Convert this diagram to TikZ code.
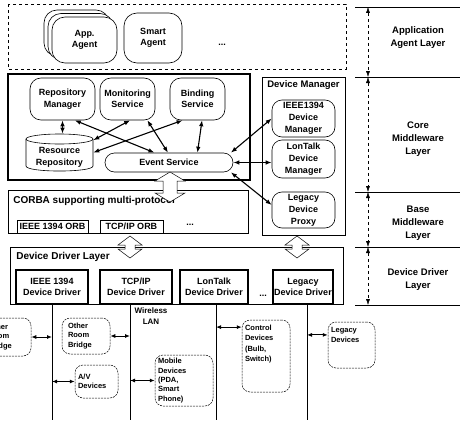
\documentclass[tikz,border=0pt]{standalone}
\usepackage{fontspec}
\setmainfont{Liberation Sans}
\usetikzlibrary{arrows.meta}

% hollow double arrow: x, top, bottom, shaft half width, head half width
\newcommand{\hollowarrow}[5]{%
  \draw[fill=white, line width=0.5pt] (#1,#2) -- (#1+#5,#2+9) -- (#1+#4,#2+9) -- (#1+#4,#3-9)
    -- (#1+#5,#3-9) -- (#1,#3) -- (#1-#5,#3-9) -- (#1-#4,#3-9) -- (#1-#4,#2+9) -- (#1-#5,#2+9) -- cycle;}

\begin{document}
\begin{tikzpicture}[x=1pt, y=-1pt, line width=0.6pt,
  txt/.style={font=\bfseries\fontsize{9}{11.5}\selectfont, align=center, inner sep=1pt},
  agent/.style={txt, draw, fill=white, rounded corners=13pt, minimum width=65pt, minimum height=46pt},
  svc/.style={txt, draw, rounded corners=11pt, minimum width=55pt, minimum height=42pt},
  dman/.style={txt, draw, rounded corners=10pt, minimum width=63pt, minimum height=37pt, font=\bfseries\fontsize{9}{12}\selectfont},
  drv/.style={txt, draw, line width=1.4pt, minimum height=34pt, inner sep=0pt},
  orb/.style={txt, draw, minimum height=13pt, inner sep=0pt},
  dev/.style={font=\bfseries\fontsize{7.5}{9.3}\selectfont, align=left, draw, dash pattern=on 2pt off 1pt, line width=0.5pt, rounded corners=8pt, inner xsep=3pt, inner ysep=2pt},
  devtxt/.style={anchor=north west, align=left, font=\bfseries\fontsize{7.5}{10.5}\selectfont, inner xsep=3pt, inner ysep=5pt},
  ttl/.style={anchor=west, font=\bfseries\fontsize{10}{12}\selectfont, inner sep=0pt},
  lyr/.style={font=\bfseries\fontsize{9.5}{13}\selectfont, align=center},
  link/.style={{Latex[length=6pt,width=4.5pt]}-{Latex[length=6pt,width=4.5pt]}, line width=1.1pt},
  plug/.style={{Latex[length=5pt,width=4pt]}-{Latex[length=5pt,width=4pt]}, line width=0.9pt},
  lspan/.style={{Latex[length=6pt,width=4pt]}-{Latex[length=6pt,width=4pt]}, dashed, line width=0.4pt}]
\useasboundingbox (0,0) rectangle (460,420);
\clip (0,0) rectangle (460,420);

% application agent layer
\draw[dashed, line width=0.5pt] (8,4) rectangle (346,69);
\draw[rounded corners=13pt, fill=white] (44,10) rectangle (109,56);
\draw[rounded corners=13pt, fill=white] (48,13.5) rectangle (113,59.5);
\node[agent] (a1) at (84.5,40) {App.\\Agent};
\node[agent, minimum width=58pt, minimum height=50pt] (a2) at (153,38) {Smart\\Agent};
\node[txt] (a3) at (222,45) {...};

% core middleware
\draw[line width=1.3pt] (8,74) rectangle (250,180);
\node[svc, minimum width=65pt] (r1) at (62.5,99) {Repository\\Manager};
\node[svc] (m1) at (127.5,99) {Monitoring\\Service};
\node[svc] (b1) at (197.5,99) {Binding\\Service};
\draw (26,139) -- (26,166) .. controls (26,172.7) and (93,172.7) .. (93,166) -- (93,139);
\draw (59.5,139) ellipse [x radius=33.5pt, y radius=5pt];
\node[minimum width=67pt, minimum height=37pt, inner sep=0pt] (rr) at (59.5,152.5) {};
\node[txt] (rt) at (59.5,157.5) {Resource\\Repository};
\node[txt, draw, rounded corners=9.5pt, minimum width=128pt, minimum height=19pt] (es) at (169,162.5) {Event Service};

\draw[line width=0.8pt] (262,77) rectangle (345,235);
\node[txt, font=\bfseries\fontsize{9.5}{12}\selectfont] (dm) at (303.5,85) {Device Manager};
\node[dman] (i1) at (303.5,118.5) {IEEE1394\\Device\\Manager};
\node[dman, minimum height=38pt] (l1) at (303.5,159) {LonTalk\\Device\\Manager};
\node[dman, minimum height=36pt] (p1) at (303.5,210) {Legacy\\Device\\Proxy};

\draw[link] (r1.south) -- (r1.south |- rr.north);
\draw[link] (r1.-60) -- (es.146);
\draw[link] (m1.-83) -- (rr.20);
\draw[link] (m1.-47) -- (es.96);
\draw[link] (b1.-125) -- (rr.east);
\draw[link] (b1.-78) -- (es.19);
\draw[link] (es.9) -- (i1.west);
\draw[link] (es.east) -- (es.east -| l1.west);
\draw[link] (es.-9) -- (p1.171);

% base middleware
\draw[line width=1pt] (8,190) rectangle (248,233);
\node[ttl] (cb) at (13,201) {CORBA supporting multi-protocol};
\node[orb, minimum width=71pt] (o1) at (52.5,226.5) {IEEE 1394 ORB};
\node[orb, minimum width=63pt] (o2) at (131.5,226.5) {TCP/IP ORB};
\node[txt] (o3) at (190,225) {...};

% device driver layer
\draw[line width=0.8pt] (10,247) rectangle (343,304);
\node[ttl] (dd) at (16,257) {Device Driver Layer};
\node[drv, minimum width=72pt] (d1) at (52,287) {IEEE 1394\\Device Driver};
\node[drv, minimum width=72pt] (d2) at (136,287) {TCP/IP\\Device Driver};
\node[drv, minimum width=68pt] (d3) at (214,287) {LonTalk\\Device Driver};
\node[drv, minimum width=60pt] (d4) at (303,287) {Legacy\\Device Driver};
\node[txt] (d5) at (263,296) {...};

\hollowarrow{170}{172}{202}{7}{15}
\hollowarrow{130}{236}{258}{5}{12}
\hollowarrow{297}{236}{258}{5}{12}

% layer scale
\coordinate (s0) at (368,7);
\coordinate (s1) at (368,77);
\coordinate (s2) at (368,192);
\coordinate (s3) at (368,247);
\coordinate (s4) at (368,305);
\draw ([xshift=-13pt]s0) -- ([xshift=92pt]s0);
\draw ([xshift=-13pt]s1) -- ([xshift=92pt]s1);
\draw ([xshift=-13pt]s2) -- ([xshift=92pt]s2);
\draw ([xshift=-13pt]s3) -- ([xshift=92pt]s3);
\draw ([xshift=-13pt]s4) -- ([xshift=92pt]s4);
\draw[lspan] (s0) -- (s1);
\draw[lspan] (s1) -- (s2);
\draw[lspan] (s2) -- (s3);
\draw[lspan] (s3) -- (s4);
\node[lyr] (t1) at (418,38) {Application\\Agent Layer};
\node[lyr] (t2) at (418,139) {Core\\Middleware\\Layer};
\node[lyr] (t3) at (418,223) {Base\\Middleware\\Layer};
\node[lyr] (t4) at (418,280) {Device Driver\\Layer};

% networks and devices
\coordinate (n1) at (52,420);
\coordinate (n2) at (130,420);
\coordinate (n3) at (216,420);
\coordinate (n4) at (307,420);
\draw[line width=0.8pt] (d1.south) -- (n1);
\draw[line width=0.8pt] (n2 |- d2.south) -- (n2);
\draw[line width=0.8pt] (n3 |- d3.south) -- (n3);
\draw[line width=0.8pt] (n4 |- d4.south) -- (n4);
\node[txt, font=\bfseries\fontsize{8}{10.5}\selectfont] (wl) at (151,316) {Wireless\\LAN};

\node[dev, text width=37pt, minimum height=38pt, inner xsep=6pt] (c1) at (6.5,337) {Other\\Room\\Bridge};
\node[dev, text width=36pt, minimum height=36pt, inner xsep=6pt] (c2) at (86,336) {Other\\Room\\Bridge};
\node[dev, text width=37pt, minimum height=33pt] (c3) at (96.5,381.5) {A/V\\Devices};
\node[dev, text width=52pt, minimum height=51pt] (c4) at (184,380.5) {Mobile\\Devices\\(PDA,\\Smart\\Phone)};
\node[dev, text width=42pt, minimum height=72pt] (c5) at (266,356) {};
\node[devtxt] (c5t) at (c5.north west) {Control\\Devices\\(Bulb,\\Switch)};
\node[dev, text width=41pt, minimum height=46pt] (c6) at (351.5,345) {};
\node[devtxt] (c6t) at (c6.north west) {Legacy\\Devices};

\draw[plug] (c1.east) -- (c1.east -| n1);
\draw[plug] (c2.east) -- (c2.east -| n2);
\draw[plug] (c3.west -| n1) -- (c3.west);
\draw[plug] (c4.west -| n2) -- (c4.west);
\draw[plug] (c5.130 -| n3) -- (c5.130);
\draw[plug] (c6.157 -| n4) -- (c6.157);
\end{tikzpicture}
\end{document}
